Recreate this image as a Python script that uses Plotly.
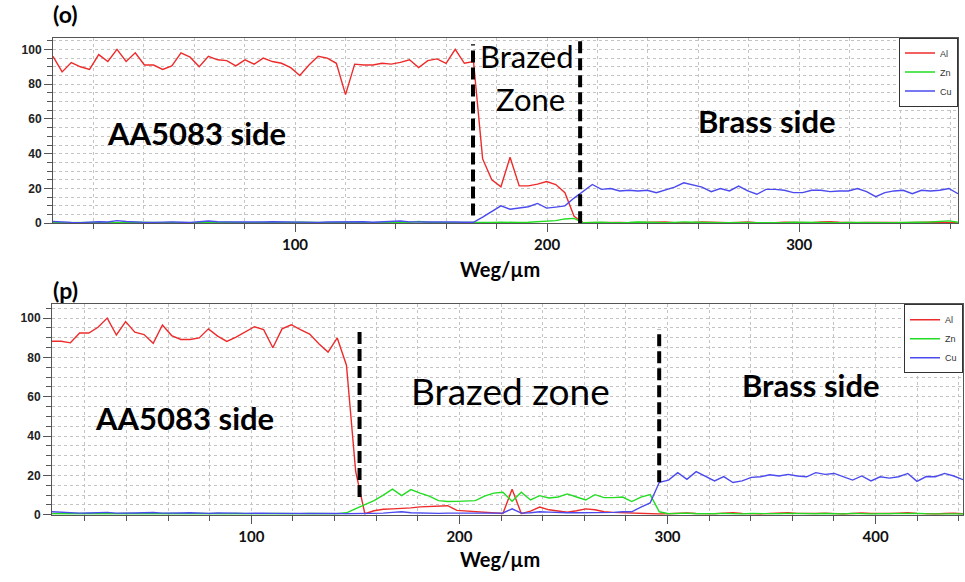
import numpy as np
import plotly.graph_objects as go

# ---------------- data ----------------
elements = ["Al", "Zn", "Cu"]
colors = ["#ee2b2b", "#22dd22", "#4a4aee"]

# panel (o): 100 points along a 4..363 µm line
top_x_start, top_x_end, top_n = 4.0, 363.0, 100
top_al = [96, 87, 92.4, 90, 88.5, 97, 93, 100, 93, 98, 91, 91, 88.5, 90.5, 98, 95.5, 90, 96, 94, 93.5,
          90.5, 94, 91.5, 95, 93, 92, 89.5, 85, 91, 96, 95, 92, 74, 91.5, 91, 91, 92, 91.5, 92.5, 94,
          89.5, 93.5, 94.5, 92, 100, 92, 93,
          37, 25, 21, 38, 21.5, 21.5, 22.5, 24, 22.3, 17.6, 4, 0.3,
          0.4, 0.6, 0.8, 0.5, 0.3, 0.4, 0.6, 0.9, 0.7, 0.4, 0.3, 0.5, 0.8, 0.6, 0.4, 0.3, 0.5, 0.7, 0.4, 0.3,
          0.4, 0.6, 0.5, 0.3, 0.4, 0.7, 0.9, 0.6, 0.4, 0.3, 0.5, 0.6, 0.8, 0.5, 0.3, 0.4, 0.6, 0.5, 0.7, 0.4, 0.3]
top_zn = [0.4, 0.5, 0.3, 0.4, 0.6, 0.5, 0.4, 0.3, 0.5, 0.6, 0.4, 0.3, 0.4, 0.5, 0.6, 0.4, 0.3, 0.5, 0.4, 0.6,
          0.5, 0.3, 0.4, 0.5, 0.4, 0.3, 0.5, 0.6, 0.4, 0.3, 0.4, 0.5, 0.6, 0.5, 0.4, 0.3, 0.5, 0.4, 0.6, 0.5,
          1.0, 0.6, 0.4, 0.3, 0.4,
          0.5, 0.4, 0.3, 0.5, 0.6, 0.4, 0.5, 0.6, 0.8, 1.0, 1.5, 2.5, 2.8, 0.3,
          0.5, 0.6, 0.4, 0.3, 0.5, 0.7, 0.5, 0.4, 0.3, 0.5, 0.8, 0.6, 0.4, 0.5, 0.3, 0.4, 0.6, 0.5, 0.4, 0.3,
          0.5, 0.4, 0.6, 0.5, 0.8, 0.6, 0.4, 0.3, 0.5, 0.4, 0.6, 0.5, 0.4, 0.3, 0.5, 0.4, 0.6, 0.7, 1.2, 1.4, 0.6]
top_cu = [1.0, 0.6, 0.5, 0.4, 0.8, 0.9, 0.7, 1.5, 1.0, 0.6, 0.5, 0.5, 0.7, 0.8, 0.6, 0.5, 0.9, 1.3, 0.9, 0.6,
          0.7, 0.8, 0.6, 0.7, 0.9, 0.8, 0.6, 0.7, 0.6, 0.5, 0.7, 0.8, 1.1, 1.2, 0.9, 0.6, 0.8, 0.9, 1.3, 0.8,
          0.6, 0.7, 0.8, 0.9, 0.7, 0.6,
          0.6, 3.5, 6.8, 10, 8.1, 8.7, 9.5, 11.4, 8.7, 9.3, 10, 14.5, 18.6, 22.3, 19.5, 20, 18.6, 19, 18.6, 19,
          17.6, 19, 20.8, 23.3, 22, 20.8, 18.2, 20, 18.6, 21.4, 18.6, 16.7, 19.5, 19.5, 19, 17.6, 17.6, 19, 19, 18.2,
          18.6, 18.6, 20, 18.2, 15.3, 17.6, 18.6, 19, 17, 19, 18.6, 19, 20, 17]

# panel (p): 100 points along a 4..442 µm line
bot_x_start, bot_x_end, bot_n = 4.2, 442.0, 100
bot_al = [88.2, 88.2, 87.4, 92.4, 92.4, 95.3, 100, 91.4, 98.2, 92.8, 91.6, 87.2, 96.5, 91.1, 89.1, 89.1, 89.9,
          94.5, 90.8, 88.1, 90.3, 92.8, 95.6, 94.1, 84.9, 94.5, 96.6, 94.1, 91.9, 86.9, 82.7, 89.9, 76, 22, 0.5,
          2, 2.8, 3, 3.2, 3.5, 4, 4.2, 4.4, 4.6, 2.2, 1.9, 1.6, 1.4, 1.2, 0.6, 13, 0.6, 1.8, 3.9, 2.5, 1.8, 1.3,
          2, 3, 2.5, 1.5, 1.2, 1, 1, 0.8, 0.6, 0.4,
          0.5, 0.7, 0.9, 0.6, 0.4, 0.5, 0.8, 1.0, 0.7, 0.5, 0.4, 0.6, 0.9, 1.0, 0.7, 0.5, 0.6, 0.8, 0.5, 0.4,
          0.6, 0.9, 0.7, 0.5, 0.6, 0.8, 1.0, 0.7, 0.5, 0.4, 0.6, 0.8, 0.5]
bot_zn = [0.5, 0.6, 0.4, 0.5, 0.6, 0.5, 0.4, 0.5, 0.6, 0.5, 0.4, 0.5, 0.6, 0.5, 0.4, 0.5, 0.6, 0.5, 0.4, 0.5,
          0.6, 0.5, 0.4, 0.5, 0.6, 0.5, 0.4, 0.5, 0.6, 0.5, 0.4, 0.5,
          1, 3, 5, 7.2, 10, 13, 9.7, 12.8, 11, 9.5, 7.2, 6.7, 6.8, 7, 7.2, 9.5, 11, 11.4, 6.8, 11.4, 7.5, 9.7,
          8.5, 9, 10.6, 9, 7.5, 10.2, 8.7, 8.7, 9, 6.7, 9, 10.2, 1.5, 0.5,
          0.6, 0.8, 0.5, 0.4, 0.5, 0.7, 0.5, 0.4, 0.6, 0.5, 0.4, 0.5, 0.7, 0.6, 0.4, 0.5, 0.6, 0.5, 0.4, 0.7,
          0.5, 0.4, 0.5, 0.6, 0.4, 0.5, 0.7, 0.5, 0.4, 0.6, 0.5, 0.4]
bot_cu = [1.5, 1.2, 1.0, 0.8, 0.9, 1.0, 1.2, 0.8, 0.7, 0.9, 1.0, 1.1, 0.8, 0.7, 0.9, 1.0, 0.8, 0.7, 0.9, 1.0,
          0.8, 0.7, 0.9, 0.8, 0.7, 0.6, 0.8, 0.7, 0.6, 0.7, 0.8, 0.6, 0.5, 0.5, 0.5, 0.6, 0.8, 1.2, 1.5, 1.0,
          0.8, 0.8, 0.7, 0.8, 0.8, 0.8, 0.8, 0.8, 0.8, 0.9,
          3, 0.8, 1, 1.5, 1.3, 1, 1, 1, 1, 1, 1, 1.2, 1.5, 1.5, 3.9, 6, 16.5, 17.6, 21.4, 18, 21.9, 19.7, 17.2,
          19.4, 16.4, 17.2, 19, 19.3, 20.3, 19.7, 20.5, 19.7, 19.3, 21.4, 20.5, 21, 19.3, 17.6, 19.7, 17.2,
          19.3, 18.6, 19.3, 21, 17, 19.4, 19.3, 21, 19.7, 17.8]

# zone boundaries (dashed lines): x position, y start, y end
top_bound_x = [170.6, 213.1]
top_bound_y0 = [4.5, 0]
top_bound_y1 = [103, 105.5]
bot_bound_x = [152, 296]
bot_bound_y0 = [9, 16.5]
bot_bound_y1 = [93.5, 94.5]

top_ticks = [100, 200, 300]
bot_ticks = [100, 200, 300, 400]
y_ticks = [0, 20, 40, 60, 80, 100]
x_title = "Weg/µm"

# ---------------- figure ----------------
top_x = np.linspace(top_x_start, top_x_end, top_n)
bot_x = np.linspace(bot_x_start, bot_x_end, bot_n)

fig = go.Figure()
for name, col, vals in zip(elements, colors, [top_al, top_zn, top_cu]):
    fig.add_trace(go.Scatter(x=top_x, y=vals, mode="lines", name=name,
                             line=dict(color=col, width=1.4),
                             xaxis="x", yaxis="y", legend="legend"))
for name, col, vals in zip(elements, colors, [bot_al, bot_zn, bot_cu]):
    fig.add_trace(go.Scatter(x=bot_x, y=vals, mode="lines", name=name,
                             line=dict(color=col, width=1.4),
                             xaxis="x2", yaxis="y2", legend="legend2"))

W, H = 965, 582
AX = "#555555"
GRID = "#c4c4c4"


def xaxis(dom, rng, ticks, anchor):
    return dict(domain=dom, range=rng, anchor=anchor, tickvals=ticks,
                showline=True, linecolor=AX, linewidth=1, mirror=True,
                ticks="outside", ticklen=8, tickcolor=AX,
                showgrid=True, gridcolor=GRID, griddash="dot", zeroline=False,
                tickfont=dict(family="Lato", size=15, color="#111", weight="bold"),
                minor=dict(dtick=20, tick0=0, ticks="outside", ticklen=5, tickcolor=AX,
                           showgrid=True, gridcolor=GRID, griddash="dot"))


def yaxis(dom, rng, anchor):
    return dict(domain=dom, range=rng, anchor=anchor, tickvals=y_ticks,
                showline=True, linecolor=AX, linewidth=1, mirror=True,
                ticks="outside", ticklen=8, tickcolor=AX,
                showgrid=True, gridcolor=GRID, griddash="dot", zeroline=False,
                tickfont=dict(family="Liberation Sans", size=12, color="#222", weight="bold"),
                minor=dict(dtick=5, tick0=0, ticks="outside", ticklen=5, tickcolor=AX,
                           showgrid=True, gridcolor=GRID, griddash="dot"))


fig.update_layout(
    width=W, height=H, autosize=False,
    margin=dict(l=0, r=0, t=0, b=0),
    paper_bgcolor="white", plot_bgcolor="white",
    xaxis=xaxis([53 / W, 958 / W], [top_x_start, top_x_end], top_ticks, "y"),
    yaxis=yaxis([1 - 226 / H, 1 - 38 / H], [0, 106.8], "x"),
    xaxis2=xaxis([52 / W, 963 / W], [bot_x_start, bot_x_end], bot_ticks, "y2"),
    yaxis2=yaxis([1 - 521 / H, 1 - 308 / H], [0, 107.0], "x2"),
    legend=dict(x=958 / W, xanchor="right", y=1 - 38 / H, yanchor="top",
                bordercolor="#333", borderwidth=1, bgcolor="white",
                font=dict(family="Liberation Sans", size=9, color="#333"),
                tracegroupgap=0, itemwidth=30),
    legend2=dict(x=963 / W, xanchor="right", y=1 - 308 / H, yanchor="top",
                 bordercolor="#333", borderwidth=1, bgcolor="white",
                 font=dict(family="Liberation Sans", size=9, color="#333"),
                 tracegroupgap=0, itemwidth=30),
    showlegend=True,
)

# dashed zone boundaries
for xs, y0s, y1s, xr, yr in [(top_bound_x, top_bound_y0, top_bound_y1, "x", "y"),
                              (bot_bound_x, bot_bound_y0, bot_bound_y1, "x2", "y2")]:
    for xv, a, b in zip(xs, y0s, y1s):
        fig.add_shape(type="line", xref=xr, yref=yr, x0=xv, x1=xv, y0=a, y1=b,
                      line=dict(color="black", width=4, dash="12px,5px"))

BOLD = dict(family="Lato", color="black", weight="bold")
REG = dict(family="Lato", color="black")

anns = [
    # panel (o)
    dict(text="AA5083 side", x=61, y=52, xref="x", yref="y", font=dict(size=31, **BOLD)),
    dict(text="Brazed", x=192, y=96, xref="x", yref="y", font=dict(size=31, **REG)),
    dict(text="Zone", x=193.3, y=71.6, xref="x", yref="y", font=dict(size=31, **REG)),
    dict(text="Brass side", x=287.3, y=59, xref="x", yref="y", font=dict(size=31, **BOLD)),
    # panel (p)
    dict(text="AA5083 side", x=67.8, y=49.2, xref="x2", yref="y2", font=dict(size=31, **BOLD)),
    dict(text="Brazed zone", x=224.5, y=63.3, xref="x2", yref="y2", font=dict(size=37, **REG)),
    dict(text="Brass side", x=368.8, y=65.8, xref="x2", yref="y2", font=dict(size=31, **BOLD)),
    # panel labels & axis titles
    dict(text="(o)", x=51 / W, y=1 - 14 / H, xref="paper", yref="paper", xanchor="left",
         font=dict(size=23, **BOLD)),
    dict(text="(p)", x=51 / W, y=1 - 294 / H, xref="paper", yref="paper", xanchor="left",
         font=dict(size=23, **BOLD)),
    dict(text=x_title, x=500 / W, y=1 - 272 / H, xref="paper", yref="paper",
         font=dict(size=20, **BOLD)),
    dict(text=x_title, x=500 / W, y=1 - 566 / H, xref="paper", yref="paper",
         font=dict(size=20, **BOLD)),
]
for a in anns:
    a.setdefault("showarrow", False)
    a.setdefault("yanchor", "middle")
    fig.add_annotation(**a)

fig.write_html("out.html")
